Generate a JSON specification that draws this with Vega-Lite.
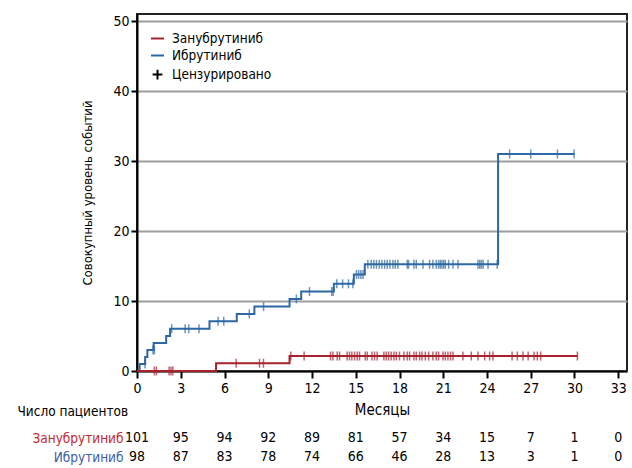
{
  "$schema": "https://vega.github.io/schema/vega-lite/v6.json",
  "padding": {"left": 17, "top": 13, "right": 4, "bottom": 4},
  "bounds": "flush",
  "spacing": 57.5,
  "config": {
    "font": "DejaVu Sans Condensed, sans-serif",
    "view": {"stroke": null}
  },
  "datasets": {
    "steps": [
      {"arm": "Ибрутиниб", "t": 0, "cum": 0},
      {"arm": "Ибрутиниб", "t": 0.18, "cum": 1.0},
      {"arm": "Ибрутиниб", "t": 0.56, "cum": 2.0},
      {"arm": "Ибрутиниб", "t": 0.71, "cum": 3.0},
      {"arm": "Ибрутиниб", "t": 1.14, "cum": 4.0},
      {"arm": "Ибрутиниб", "t": 2.0, "cum": 5.0},
      {"arm": "Ибрутиниб", "t": 2.27, "cum": 6.05},
      {"arm": "Ибрутиниб", "t": 4.97, "cum": 7.1},
      {"arm": "Ибрутиниб", "t": 6.84, "cum": 8.15},
      {"arm": "Ибрутиниб", "t": 8.05, "cum": 9.2},
      {"arm": "Ибрутиниб", "t": 10.46, "cum": 10.3},
      {"arm": "Ибрутиниб", "t": 11.26, "cum": 11.35},
      {"arm": "Ибрутиниб", "t": 13.5, "cum": 12.45},
      {"arm": "Ибрутиниб", "t": 14.87, "cum": 13.8},
      {"arm": "Ибрутиниб", "t": 15.62, "cum": 15.24},
      {"arm": "Ибрутиниб", "t": 24.76, "cum": 31.0},
      {"arm": "Ибрутиниб", "t": 30.0, "cum": 31.0},
      {"arm": "Занубрутиниб", "t": 0, "cum": 0},
      {"arm": "Занубрутиниб", "t": 5.42, "cum": 1.1},
      {"arm": "Занубрутиниб", "t": 10.46, "cum": 2.14},
      {"arm": "Занубрутиниб", "t": 30.2, "cum": 2.14}
    ],
    "censors": [
      {"arm": "Ибрутиниб", "t": 0.55, "cum": 1.0},
      {"arm": "Ибрутиниб", "t": 1.1, "cum": 3.0},
      {"arm": "Ибрутиниб", "t": 1.19, "cum": 3.0},
      {"arm": "Ибрутиниб", "t": 2.38, "cum": 6.05},
      {"arm": "Ибрутиниб", "t": 3.3, "cum": 6.05},
      {"arm": "Ибрутиниб", "t": 3.55, "cum": 6.05},
      {"arm": "Ибрутиниб", "t": 4.25, "cum": 6.05},
      {"arm": "Ибрутиниб", "t": 5.56, "cum": 7.1},
      {"arm": "Ибрутиниб", "t": 5.95, "cum": 7.1},
      {"arm": "Ибрутиниб", "t": 7.7, "cum": 8.15},
      {"arm": "Ибрутиниб", "t": 8.68, "cum": 9.2},
      {"arm": "Ибрутиниб", "t": 10.93, "cum": 10.3},
      {"arm": "Ибрутиниб", "t": 11.83, "cum": 11.35},
      {"arm": "Ибрутиниб", "t": 13.35, "cum": 11.35},
      {"arm": "Ибрутиниб", "t": 13.45, "cum": 11.35},
      {"arm": "Ибрутиниб", "t": 13.7, "cum": 12.45},
      {"arm": "Ибрутиниб", "t": 14.1, "cum": 12.45},
      {"arm": "Ибрутиниб", "t": 14.5, "cum": 12.45},
      {"arm": "Ибрутиниб", "t": 14.8, "cum": 12.45},
      {"arm": "Ибрутиниб", "t": 15.05, "cum": 13.8},
      {"arm": "Ибрутиниб", "t": 15.2, "cum": 13.8},
      {"arm": "Ибрутиниб", "t": 15.35, "cum": 13.8},
      {"arm": "Ибрутиниб", "t": 15.5, "cum": 13.8},
      {"arm": "Ибрутиниб", "t": 15.83, "cum": 15.24},
      {"arm": "Ибрутиниб", "t": 16.06, "cum": 15.24},
      {"arm": "Ибрутиниб", "t": 16.24, "cum": 15.24},
      {"arm": "Ибрутиниб", "t": 16.42, "cum": 15.24},
      {"arm": "Ибрутиниб", "t": 16.61, "cum": 15.24},
      {"arm": "Ибрутиниб", "t": 16.79, "cum": 15.24},
      {"arm": "Ибрутиниб", "t": 16.98, "cum": 15.24},
      {"arm": "Ибрутиниб", "t": 17.16, "cum": 15.24},
      {"arm": "Ибрутиниб", "t": 17.34, "cum": 15.24},
      {"arm": "Ибрутиниб", "t": 17.55, "cum": 15.24},
      {"arm": "Ибрутиниб", "t": 17.71, "cum": 15.24},
      {"arm": "Ибрутиниб", "t": 17.89, "cum": 15.24},
      {"arm": "Ибрутиниб", "t": 18.53, "cum": 15.24},
      {"arm": "Ибрутиниб", "t": 18.62, "cum": 15.24},
      {"arm": "Ибрутиниб", "t": 18.99, "cum": 15.24},
      {"arm": "Ибрутиниб", "t": 19.15, "cum": 15.24},
      {"arm": "Ибрутиниб", "t": 19.61, "cum": 15.24},
      {"arm": "Ибрутиниб", "t": 20.06, "cum": 15.24},
      {"arm": "Ибрутиниб", "t": 20.29, "cum": 15.24},
      {"arm": "Ибрутиниб", "t": 20.52, "cum": 15.24},
      {"arm": "Ибрутиниб", "t": 20.68, "cum": 15.24},
      {"arm": "Ибрутиниб", "t": 20.8, "cum": 15.24},
      {"arm": "Ибрутиниб", "t": 20.91, "cum": 15.24},
      {"arm": "Ибрутиниб", "t": 21.03, "cum": 15.24},
      {"arm": "Ибрутиниб", "t": 21.14, "cum": 15.24},
      {"arm": "Ибрутиниб", "t": 21.37, "cum": 15.24},
      {"arm": "Ибрутиниб", "t": 21.67, "cum": 15.24},
      {"arm": "Ибрутиниб", "t": 22.01, "cum": 15.24},
      {"arm": "Ибрутиниб", "t": 23.38, "cum": 15.24},
      {"arm": "Ибрутиниб", "t": 23.5, "cum": 15.24},
      {"arm": "Ибрутиниб", "t": 23.61, "cum": 15.24},
      {"arm": "Ибрутиниб", "t": 23.73, "cum": 15.24},
      {"arm": "Ибрутиниб", "t": 24.07, "cum": 15.24},
      {"arm": "Ибрутиниб", "t": 24.7, "cum": 15.24},
      {"arm": "Ибрутиниб", "t": 25.55, "cum": 31.0},
      {"arm": "Ибрутиниб", "t": 27.0, "cum": 31.0},
      {"arm": "Ибрутиниб", "t": 28.83, "cum": 31.0},
      {"arm": "Ибрутиниб", "t": 29.97, "cum": 31.0},
      {"arm": "Занубрутиниб", "t": 1.19, "cum": 0},
      {"arm": "Занубрутиниб", "t": 1.33, "cum": 0},
      {"arm": "Занубрутиниб", "t": 2.2, "cum": 0},
      {"arm": "Занубрутиниб", "t": 2.33, "cum": 0},
      {"arm": "Занубрутиниб", "t": 2.45, "cum": 0},
      {"arm": "Занубрутиниб", "t": 6.8, "cum": 1.1},
      {"arm": "Занубрутиниб", "t": 8.4, "cum": 1.1},
      {"arm": "Занубрутиниб", "t": 8.67, "cum": 1.1},
      {"arm": "Занубрутиниб", "t": 10.55, "cum": 2.14},
      {"arm": "Занубрутиниб", "t": 11.46, "cum": 2.14},
      {"arm": "Занубрутиниб", "t": 13.27, "cum": 2.14},
      {"arm": "Занубрутиниб", "t": 13.43, "cum": 2.14},
      {"arm": "Занубрутиниб", "t": 13.73, "cum": 2.14},
      {"arm": "Занубрутиниб", "t": 13.89, "cum": 2.14},
      {"arm": "Занубрутиниб", "t": 14.41, "cum": 2.14},
      {"arm": "Занубрутиниб", "t": 14.57, "cum": 2.14},
      {"arm": "Занубрутиниб", "t": 14.73, "cum": 2.14},
      {"arm": "Занубрутиниб", "t": 14.92, "cum": 2.14},
      {"arm": "Занубрутиниб", "t": 15.1, "cum": 2.14},
      {"arm": "Занубрутиниб", "t": 15.26, "cum": 2.14},
      {"arm": "Занубрутиниб", "t": 15.65, "cum": 2.14},
      {"arm": "Занубрутиниб", "t": 15.79, "cum": 2.14},
      {"arm": "Занубрутиниб", "t": 16.11, "cum": 2.14},
      {"arm": "Занубрутиниб", "t": 16.29, "cum": 2.14},
      {"arm": "Занубрутиниб", "t": 16.47, "cum": 2.14},
      {"arm": "Занубрутиниб", "t": 16.93, "cum": 2.14},
      {"arm": "Занубрутиниб", "t": 17.09, "cum": 2.14},
      {"arm": "Занубрутиниб", "t": 17.25, "cum": 2.14},
      {"arm": "Занубрутиниб", "t": 17.43, "cum": 2.14},
      {"arm": "Занубрутиниб", "t": 17.62, "cum": 2.14},
      {"arm": "Занубрутиниб", "t": 17.78, "cum": 2.14},
      {"arm": "Занубрутиниб", "t": 18.0, "cum": 2.14},
      {"arm": "Занубрутиниб", "t": 18.3, "cum": 2.14},
      {"arm": "Занубрутиниб", "t": 18.53, "cum": 2.14},
      {"arm": "Занубрутиниб", "t": 18.69, "cum": 2.14},
      {"arm": "Занубрутиниб", "t": 18.99, "cum": 2.14},
      {"arm": "Занубрутиниб", "t": 19.15, "cum": 2.14},
      {"arm": "Занубрутиниб", "t": 19.38, "cum": 2.14},
      {"arm": "Занубрутиниб", "t": 19.54, "cum": 2.14},
      {"arm": "Занубрутиниб", "t": 19.77, "cum": 2.14},
      {"arm": "Занубрутиниб", "t": 20.0, "cum": 2.14},
      {"arm": "Занубрутиниб", "t": 20.29, "cum": 2.14},
      {"arm": "Занубрутиниб", "t": 20.52, "cum": 2.14},
      {"arm": "Занубрутиниб", "t": 20.68, "cum": 2.14},
      {"arm": "Занубрутиниб", "t": 20.98, "cum": 2.14},
      {"arm": "Занубрутиниб", "t": 21.14, "cum": 2.14},
      {"arm": "Занубрутиниб", "t": 21.32, "cum": 2.14},
      {"arm": "Занубрутиниб", "t": 21.5, "cum": 2.14},
      {"arm": "Занубрутиниб", "t": 21.67, "cum": 2.14},
      {"arm": "Занубрутиниб", "t": 22.35, "cum": 2.14},
      {"arm": "Занубрутиниб", "t": 22.92, "cum": 2.14},
      {"arm": "Занубрутиниб", "t": 23.38, "cum": 2.14},
      {"arm": "Занубрутиниб", "t": 23.84, "cum": 2.14},
      {"arm": "Занубрутиниб", "t": 24.18, "cum": 2.14},
      {"arm": "Занубрутиниб", "t": 24.41, "cum": 2.14},
      {"arm": "Занубрутиниб", "t": 25.72, "cum": 2.14},
      {"arm": "Занубрутиниб", "t": 26.08, "cum": 2.14},
      {"arm": "Занубрутиниб", "t": 26.47, "cum": 2.14},
      {"arm": "Занубрутиниб", "t": 26.82, "cum": 2.14},
      {"arm": "Занубрутиниб", "t": 27.23, "cum": 2.14},
      {"arm": "Занубрутиниб", "t": 27.45, "cum": 2.14},
      {"arm": "Занубрутиниб", "t": 27.68, "cum": 2.14},
      {"arm": "Занубрутиниб", "t": 30.2, "cum": 2.14}
    ],
    "risk": [
      {"arm": "Занубрутиниб", "t": 0, "n": 101},
      {"arm": "Занубрутиниб", "t": 3, "n": 95},
      {"arm": "Занубрутиниб", "t": 6, "n": 94},
      {"arm": "Занубрутиниб", "t": 9, "n": 92},
      {"arm": "Занубрутиниб", "t": 12, "n": 89},
      {"arm": "Занубрутиниб", "t": 15, "n": 81},
      {"arm": "Занубрутиниб", "t": 18, "n": 57},
      {"arm": "Занубрутиниб", "t": 21, "n": 34},
      {"arm": "Занубрутиниб", "t": 24, "n": 15},
      {"arm": "Занубрутиниб", "t": 27, "n": 7},
      {"arm": "Занубрутиниб", "t": 30, "n": 1},
      {"arm": "Занубрутиниб", "t": 33, "n": 0},
      {"arm": "Ибрутиниб", "t": 0, "n": 98},
      {"arm": "Ибрутиниб", "t": 3, "n": 87},
      {"arm": "Ибрутиниб", "t": 6, "n": 83},
      {"arm": "Ибрутиниб", "t": 9, "n": 78},
      {"arm": "Ибрутиниб", "t": 12, "n": 74},
      {"arm": "Ибрутиниб", "t": 15, "n": 66},
      {"arm": "Ибрутиниб", "t": 18, "n": 46},
      {"arm": "Ибрутиниб", "t": 21, "n": 28},
      {"arm": "Ибрутиниб", "t": 24, "n": 13},
      {"arm": "Ибрутиниб", "t": 27, "n": 3},
      {"arm": "Ибрутиниб", "t": 30, "n": 1},
      {"arm": "Ибрутиниб", "t": 33, "n": 0}
    ]
  },
  "vconcat": [
    {
      "width": 490,
      "height": 357,
      "view": {"stroke": "#222222", "strokeWidth": 2},
      "encoding": {
        "x": {
          "field": "t", "type": "quantitative",
          "scale": {"domain": [0, 33.6], "nice": false, "zero": false},
          "axis": {
            "values": [0, 3, 6, 9, 12, 15, 18, 21, 24, 27, 30, 33],
            "title": "Месяцы", "grid": false,
            "domainColor": "#000000", "domainWidth": 2,
            "tickColor": "#000000", "tickWidth": 2, "tickSize": 7,
            "labelFontSize": 14, "labelPadding": 3, "labelColor": "#000000", "labelFlush": false,
            "titleFontSize": 15, "titleFontWeight": "normal", "titlePadding": 7, "titleColor": "#000000"
          }
        },
        "y": {
          "field": "cum", "type": "quantitative",
          "scale": {"domain": [0, 51], "nice": false},
          "axis": {
            "values": [0, 10, 20, 30, 40, 50],
            "title": "Совокупный уровень событий",
            "grid": true, "gridColor": "#9e9e9e", "gridWidth": 2,
            "domainColor": "#000000", "domainWidth": 2,
            "tickColor": "#000000", "tickWidth": 2, "tickSize": 6,
            "labelFontSize": 14, "labelPadding": 2, "labelColor": "#000000",
            "titleFontSize": 13, "titleFontWeight": "normal", "titlePadding": 18, "titleColor": "#000000"
          }
        },
        "color": {
          "field": "arm", "type": "nominal",
          "scale": {
            "domain": ["Занубрутиниб", "Ибрутиниб", "Цензурировано"],
            "range": ["#a8222d", "#2c68a3", "#000000"]
          },
          "legend": {
            "title": null, "orient": "none", "legendX": 13, "legendY": 17,
            "labelFontSize": 13.5, "labelColor": "#000000", "labelOffset": 7,
            "symbolSize": 169, "symbolStrokeWidth": 2, "rowPadding": 3, "padding": 0,
            "encode": {
              "symbols": {
                "update": {
                  "shape": {"signal": "datum.value === 'Цензурировано' ? 'M-0.75,0H0.75M0,-0.75V0.75' : 'stroke'"},
                  "stroke": {"signal": "datum.value === 'Занубрутиниб' ? '#c8102e' : datum.value === 'Ибрутиниб' ? '#2e3192' : '#000000'"},
                  "fill": {"value": "transparent"},
                  "strokeWidth": {"value": 2}
                }
              }
            }
          }
        }
      },
      "layer": [
        {
          "data": {"name": "steps"},
          "mark": {"type": "line", "interpolate": "step-after", "strokeWidth": 2}
        },
        {
          "data": {"name": "censors"},
          "mark": {"type": "tick", "orient": "vertical", "size": 9, "thickness": 1.5}
        }
      ]
    },
    {
      "width": 490,
      "height": 38,
      "data": {"name": "risk"},
      "mark": {"type": "text", "fontSize": 14, "color": "#000000"},
      "encoding": {
        "x": {
          "field": "t", "type": "quantitative",
          "scale": {"domain": [0, 33.6], "nice": false, "zero": false},
          "axis": null
        },
        "y": {
          "field": "arm", "type": "nominal",
          "scale": {"domain": ["Занубрутиниб", "Ибрутиниб"], "paddingInner": 0, "paddingOuter": 0},
          "axis": {
            "domain": false, "ticks": false, "labelFontSize": 13.5, "labelPadding": 14,
            "labelColor": {"condition": {"test": "datum.value === 'Занубрутиниб'", "value": "#c0282f"}, "value": "#3c5ca8"},
            "title": "Число пациентов", "titleAngle": 0, "titleAlign": "left", "titleBaseline": "middle",
            "titleX": -120, "titleY": -17.5, "titleFontSize": 13.5, "titleFontWeight": "normal", "titleColor": "#000000"
          }
        },
        "text": {"field": "n", "type": "quantitative"}
      }
    }
  ]
}
